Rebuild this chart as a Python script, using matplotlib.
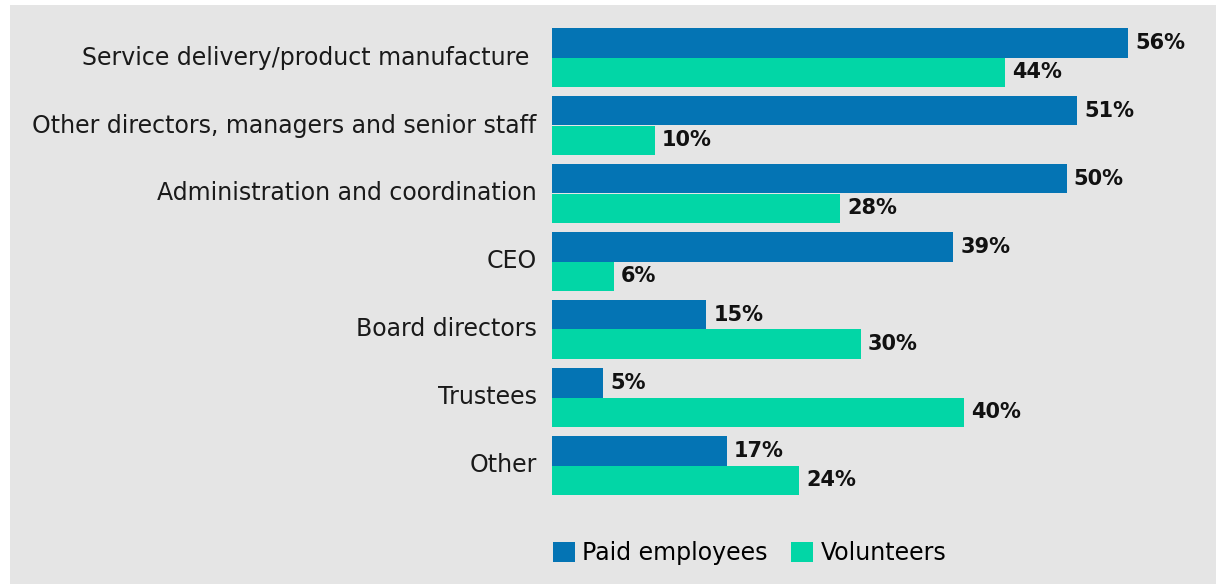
import matplotlib
matplotlib.use("Agg")
import matplotlib.pyplot as plt
from matplotlib.patches import Rectangle

# roles and share of organisations using each type of worker (%)
roles = ["Service delivery/product manufacture ",
         "Other directors, managers and senior staff",
         "Administration and coordination",
         "CEO",
         "Board directors",
         "Trustees",
         "Other"]
paid = [56, 51, 50, 39, 15, 5, 17]
volunteers = [44, 10, 28, 6, 30, 40, 24]

paid_col = "#0474b4"
vol_col = "#02d6a6"
bg = "#e5e5e5"

plt.rcParams["font.family"] = ["DejaVu Sans"]

fig = plt.figure(figsize=(12.21, 5.84), dpi=100)
fig.patch.set_facecolor("white")
# grey panel behind everything
fig.patches.append(Rectangle((10 / 1221, 0), 1206 / 1221, 579 / 584,
                             transform=fig.transFigure, facecolor=bg,
                             edgecolor="none", zorder=-10))

ax = fig.add_axes([552 / 1221, 1 - 499.5 / 584, 664 / 1221, 476 / 584])
ax.set_facecolor("none")

h = 0.44
ys = list(range(len(roles)))
b1 = ax.barh([y - h / 2 for y in ys], paid, height=h, color=paid_col,
             label="Paid employees")
b2 = ax.barh([y + h / 2 for y in ys], volunteers, height=h, color=vol_col,
             label="Volunteers")

for y, v in zip(ys, paid):
    ax.text(v + 0.7, y - h / 2, f"{v}%", va="center", ha="left",
            fontsize=15, fontweight="bold", color="#111111")
for y, v in zip(ys, volunteers):
    ax.text(v + 0.7, y + h / 2, f"{v}%", va="center", ha="left",
            fontsize=15, fontweight="bold", color="#111111")

ax.set_xlim(0, 664 / 10.29)
ax.set_ylim(len(roles) - 0.5, -0.5)
ax.set_yticks(ys)
ax.set_yticklabels(roles, fontsize=17, color="#1a1a1a", va="center")
ax.tick_params(axis="y", length=0, pad=11)
ax.set_xticks([])
for s in ax.spines.values():
    s.set_visible(False)

fig.legend(handles=[b1, b2], loc="center left",
           bbox_to_anchor=(532 / 1221, 1 - 553 / 584), ncol=2, frameon=False,
           fontsize=17, handlelength=0.93, handleheight=0.93,
           handletextpad=0.3, columnspacing=1.0)

fig.savefig("out.png", dpi=100)
